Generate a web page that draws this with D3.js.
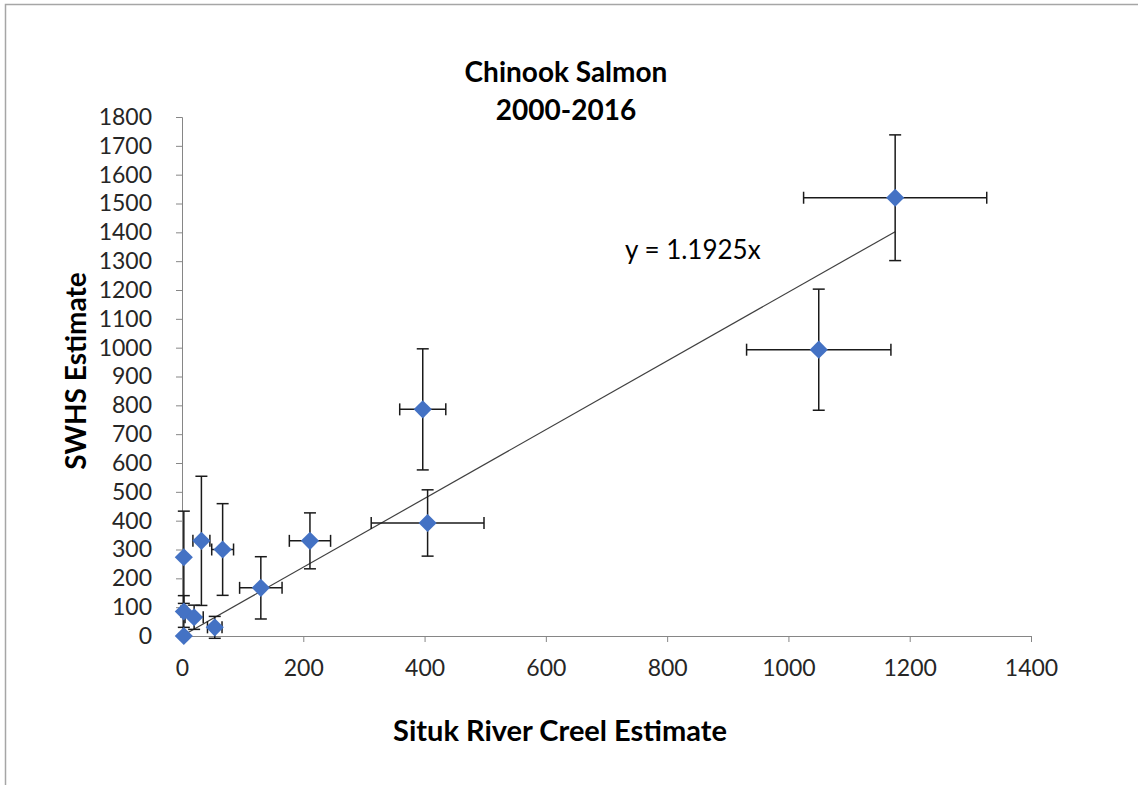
<!doctype html>
<html>
  <head>
    <script src="https://cdnjs.cloudflare.com/ajax/libs/d3/7.8.5/d3.min.js"></script>
    <style>
      body { margin: 0; background: #fff; }
      text { font-family: Lato, "Open Sans", sans-serif; }
    </style>
  </head>
  <body>
    <svg id="chart" width="1138" height="785"></svg>
    <script>
      // Situk River creel estimate vs SWHS estimate, one point per year
      var creel    = [1176, 1050, 397, 405, 211, 130, 67, 32, 3, 3, 20, 54, 3];
      var swhs     = [1520, 993, 786, 392, 330, 167, 300, 330, 273, 85, 65, 30, 0];
      var creelErr = [151, 119, 38, 93, 34, 35, 18, 14, 0, 5, 15, 12, 0];
      var swhsErr  = [218, 210, 210, 115, 97, 108, 159, 224, 160, 55, 42, 38, 0];
      var slope = 1.1925;

      var xTicks = [0, 200, 400, 600, 800, 1000, 1200, 1400];
      var yTicks = d3.range(0, 1801, 100);

      var pts = creel.map((c, i) => ({x: c, y: swhs[i], ex: creelErr[i], ey: swhsErr[i]}));

      var svg = d3.select("#chart");

      // outer frame
      svg.append("rect")
        .attr("x", 5.5).attr("y", 4.5)
        .attr("width", 1160).attr("height", 800)
        .attr("fill", "none").attr("stroke", "#a6a6a6").attr("stroke-width", 1.5);

      var x = d3.scaleLinear().domain([0, 1400]).range([182, 1031]);
      var y = d3.scaleLinear().domain([0, 1800]).range([636, 117]);

      var xAxis = svg.append("g")
        .attr("transform", "translate(0,636)")
        .call(d3.axisBottom(x).tickValues(xTicks).tickFormat(d3.format("d")).tickSize(6).tickPadding(18));
      var yAxis = svg.append("g")
        .attr("transform", "translate(182,0)")
        .call(d3.axisLeft(y).tickValues(yTicks).tickFormat(d3.format("d")).tickSize(6).tickPadding(24));

      [xAxis, yAxis].forEach(g => {
        g.select(".domain").attr("stroke", "#868686");
        g.selectAll(".tick line").attr("stroke", "#868686");
        g.selectAll(".tick text")
          .attr("fill", "#262626")
          .style("font-size", "23px")
          .style("font-family", "Lato, sans-serif");
      });
      xAxis.selectAll(".tick text").attr("dy", "0.71em");

      // trend line through origin
      svg.append("line")
        .attr("x1", x(0)).attr("y1", y(0))
        .attr("x2", x(d3.max(creel))).attr("y2", y(slope * d3.max(creel)))
        .attr("stroke", "#404040").attr("stroke-width", 1.2);

      // error bars
      var cap = 6;
      var eb = svg.append("g").attr("stroke", "#1a1a1a").attr("stroke-width", 1.5);
      pts.filter(d => d.ey > 0).forEach(d => {
        eb.append("line").attr("x1", x(d.x)).attr("x2", x(d.x))
          .attr("y1", y(d.y - d.ey)).attr("y2", y(d.y + d.ey));
        [d.y - d.ey, d.y + d.ey].forEach(v => {
          eb.append("line").attr("x1", x(d.x) - cap).attr("x2", x(d.x) + cap)
            .attr("y1", y(v)).attr("y2", y(v));
        });
      });
      pts.filter(d => d.ex > 0).forEach(d => {
        eb.append("line").attr("y1", y(d.y)).attr("y2", y(d.y))
          .attr("x1", x(d.x - d.ex)).attr("x2", x(d.x + d.ex));
        [d.x - d.ex, d.x + d.ex].forEach(v => {
          eb.append("line").attr("y1", y(d.y) - cap).attr("y2", y(d.y) + cap)
            .attr("x1", x(v)).attr("x2", x(v));
        });
      });

      // diamond markers
      svg.append("g").selectAll("path")
        .data(pts)
        .enter()
        .append("path")
          .attr("d", d3.symbol().type(d3.symbolDiamond2).size(210))
          .attr("transform", d => "translate(" + x(d.x) + "," + y(d.y) + ")")
          .attr("fill", "#4472c4");

      // titles
      svg.append("text").attr("x", 566).attr("y", 82)
        .attr("text-anchor", "middle").style("font-size", "28px").style("font-weight", "bold")
        .attr("fill", "#000").text("Chinook  Salmon");
      svg.append("text").attr("x", 566).attr("y", 120)
        .attr("text-anchor", "middle").style("font-size", "28px").style("font-weight", "bold")
        .attr("fill", "#000").text("2000-2016");

      svg.append("text").attr("x", 560).attr("y", 741)
        .attr("text-anchor", "middle").style("font-size", "29px").style("font-weight", "bold")
        .attr("fill", "#000").text("Situk River Creel Estimate");

      svg.append("text")
        .attr("transform", "translate(86,371) rotate(-90)")
        .attr("text-anchor", "middle").style("font-size", "28px").style("font-weight", "bold")
        .attr("fill", "#000").text("SWHS Estimate");

      svg.append("text").attr("x", 625).attr("y", 259)
        .style("font-size", "26px").attr("fill", "#000").text("y = 1.1925x");
    </script>
  </body>
</html>
